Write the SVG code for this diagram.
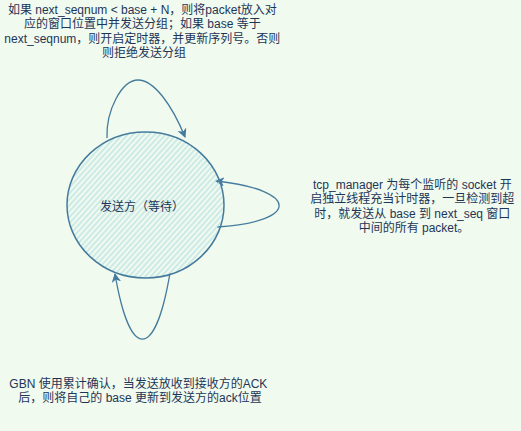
<svg xmlns="http://www.w3.org/2000/svg" width="521" height="431" viewBox="0 0 521 431">
  <defs>
    <style>
      .lbl { font-family: "Liberation Sans", "Noto Sans CJK SC", sans-serif; font-size: 12px; fill: #1D3557; text-anchor: middle; }
      .edge { fill: none; stroke: #457B9D; stroke-width: 1.3; }
    </style>
    <pattern id="hatch" width="4" height="4" patternUnits="userSpaceOnUse" patternTransform="rotate(42)">
      <line x1="1" y1="0" x2="1" y2="4" stroke="#B4E0E2" stroke-width="1.2"/>
    </pattern>
    <marker id="arr" markerWidth="10" markerHeight="10" refX="8" refY="5" orient="auto" markerUnits="userSpaceOnUse">
      <path d="M1,1.5 L8,5 L1,8.5 L3,5 Z" fill="#457B9D" stroke="#457B9D" stroke-width="1"/>
    </marker>
  </defs>
  <rect x="0" y="0" width="521" height="431" fill="#F1FAEE"/>

  <g id="connectors">
    <path class="edge" d="M107,138 C106,110 122,80 138,80 C154,80 172,105 185,137" marker-end="url(#arr)"/>
    <path class="edge" d="M217,227 C300,222 300,190 216,181" marker-end="url(#arr)"/>
    <path class="edge" d="M170,273 C155,361 130,361 115,274" marker-end="url(#arr)"/>
  </g>

  <g id="sender">
    <ellipse cx="145.5" cy="205" rx="78.5" ry="73" fill="url(#hatch)" stroke="#457B9D" stroke-width="1.5"/>
    <text class="lbl" x="142" y="211">发送方（等待）</text>
  </g>

  <g id="label-top">
    <text class="lbl" x="144" y="14">
      <tspan x="144" dy="0">如果 next_seqnum &lt; base + N，则将packet放入对</tspan>
      <tspan x="144" dy="14">应的窗口位置中并发送分组；如果 base 等于</tspan>
      <tspan x="144" dy="14.5">next_seqnum，则开启定时器，并更新序列号。否则</tspan>
      <tspan x="144" dy="14.5">则拒绝发送分组</tspan>
    </text>
  </g>

  <g id="label-right">
    <text class="lbl" x="414" y="189">
      <tspan x="414" dy="0">tcp_manager 为每个监听的 socket 开</tspan>
      <tspan x="414" dy="14.3">启独立线程充当计时器，一旦检测到超</tspan>
      <tspan x="414" dy="14.3">时，就发送从 base 到 next_seq 窗口</tspan>
      <tspan x="414" dy="14.3">中间的所有 packet。</tspan>
    </text>
  </g>

  <g id="label-bottom">
    <text class="lbl" x="140" y="388">
      <tspan x="140" dy="0">GBN 使用累计确认，当发送放收到接收方的ACK</tspan>
      <tspan x="140" dy="13.5">后，则将自己的 base 更新到发送方的ack位置</tspan>
    </text>
  </g>
</svg>
